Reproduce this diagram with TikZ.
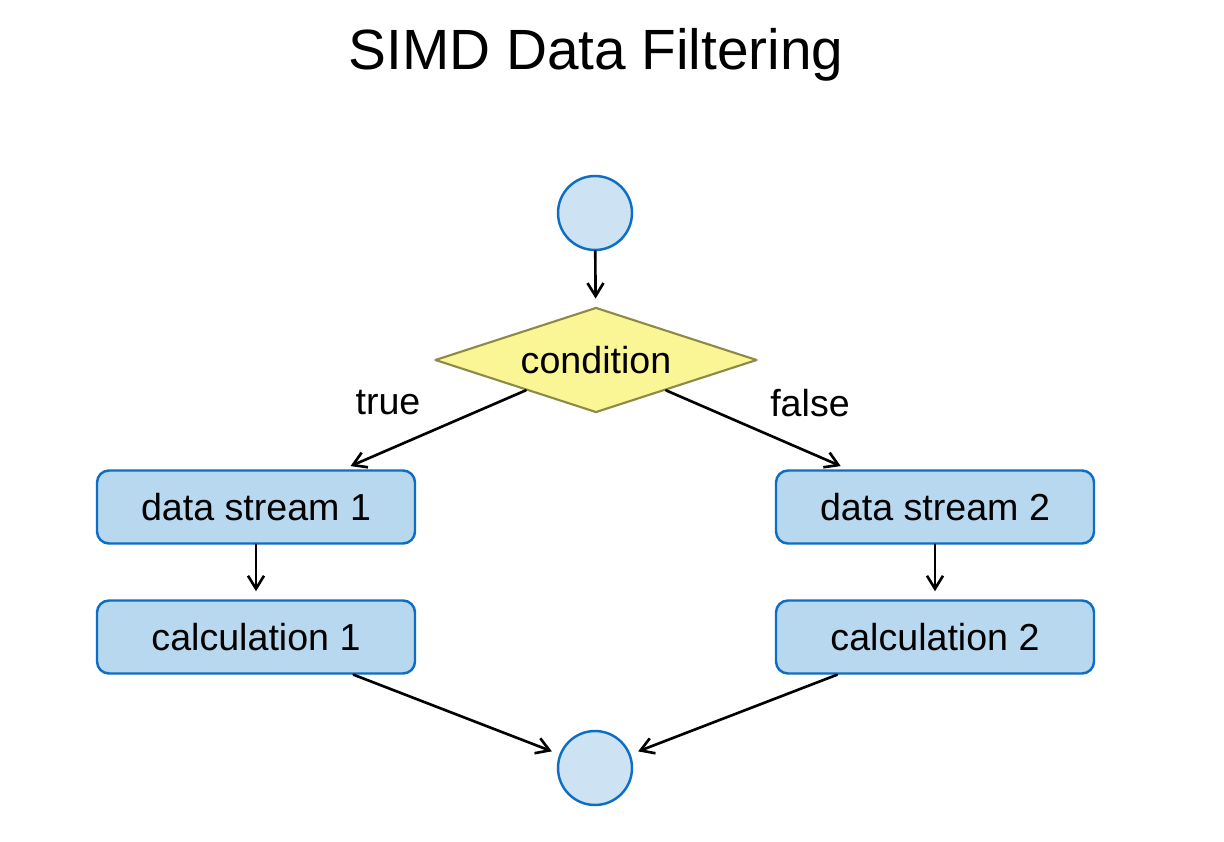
\documentclass[tikz,border=0pt]{standalone}
\usepackage{fontspec}
\setmainfont{Liberation Sans}
\usetikzlibrary{arrows.meta,shapes.geometric}
\definecolor{endfill}{RGB}{205,227,243}
\definecolor{boxfill}{RGB}{183,216,239}
\definecolor{blueline}{RGB}{14,110,196}
\definecolor{condfill}{RGB}{250,246,150}
\definecolor{condline}{RGB}{140,138,70}
\tikzset{
	endpt/.style={circle,draw=blueline,fill=endfill,line width=1.4pt,minimum size=1.48cm,inner sep=0pt},
	procbox/.style={rectangle,rounded corners=0.24cm,draw=blueline,fill=boxfill,line width=1.4pt,minimum width=6.36cm,minimum height=1.46cm,inner sep=0pt,font=\fontsize{21.4}{25}\selectfont},
	condbox/.style={diamond,aspect=3.07,draw=condline,fill=condfill,line width=1.2pt,minimum width=6.44cm,minimum height=2.1cm,inner sep=0pt,font=\fontsize{21.4}{25}\selectfont},
	flow/.style={->,line width=1.5pt,shorten >=0.16cm}
}
\begin{document}
\begin{tikzpicture}[line cap=round,line join=round,>={Straight Barb[length=2.6mm,width=3.2mm]},x=1.0cm,y=1.0cm]
			\useasboundingbox (0.,0.) rectangle (24.48,16.82);
			\fill [white] (0.,0.) rectangle (24.48,16.82);
			\node (title) at (11.92,15.72) {\fontsize{32.3}{38}\selectfont SIMD Data Filtering};
			\node [endpt] (start) at (11.90,12.56) {};
			\node [condbox] (cond) at (11.92,9.62) {condition};
			\node [procbox] (stream1) at (5.12,6.68) {data stream 1};
			\node [procbox] (calc1) at (5.12,4.08) {calculation 1};
			\node [procbox] (stream2) at (18.70,6.68) {data stream 2};
			\node [procbox] (calc2) at (18.70,4.08) {calculation 2};
			\node [endpt] (stop) at (11.90,1.46) {};
			\draw [flow] (start) -- (cond);
			\draw [flow] (cond) -- (stream1);
			\draw [flow] (cond) -- (stream2);
			\draw [flow] (stream1) -- (calc1);
			\draw [flow] (stream2) -- (calc2);
			\draw [flow] (calc1) -- (stop);
			\draw [flow] (calc2) -- (stop);
			\node [font=\fontsize{21.4}{25}\selectfont] (truelbl) at (7.76,8.76) {true};
			\node [font=\fontsize{21.4}{25}\selectfont] (falselbl) at (16.20,8.76) {false};
		\end{tikzpicture}
\end{document}
